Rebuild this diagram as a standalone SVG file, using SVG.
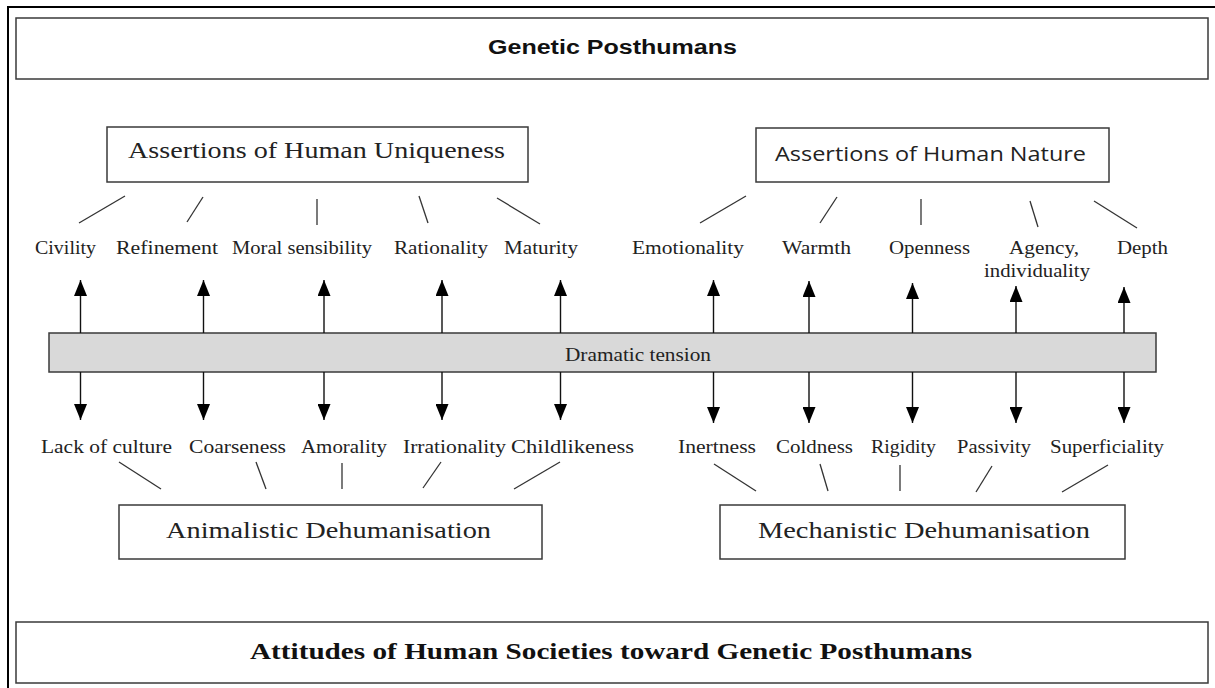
<svg xmlns="http://www.w3.org/2000/svg" width="1215" height="688" viewBox="0 0 1215 688">
<defs>
<style>
.box{fill:#fff;stroke:#3a3a3a;stroke-width:1.5}
.bar{fill:#d9d9d9;stroke:#3a3a3a;stroke-width:1.5}
.ln{stroke:#333;stroke-width:1.3;fill:none}
.ar{stroke:#111;stroke-width:1.4;fill:none;marker-end:url(#ah)}
.lb{font-family:"Liberation Serif","Times New Roman",serif;font-size:19px;fill:#222}
.dt{font-family:"Liberation Serif","Times New Roman",serif;font-size:18px;fill:#222}
.hd{font-family:"Liberation Serif","Times New Roman",serif;font-size:23px;fill:#222}
.sh{font-family:"Open Sans","Liberation Sans",sans-serif;font-size:20px;fill:#222}
.tt{font-family:"Liberation Sans","DejaVu Sans",sans-serif;font-size:20px;font-weight:bold;fill:#111}
.bt{font-family:"Liberation Serif","Times New Roman",serif;font-size:23px;font-weight:bold;fill:#111}
</style>
<marker id="ah" markerUnits="userSpaceOnUse" markerWidth="16" markerHeight="13" refX="16" refY="6.5" orient="auto">
<path d="M0,0 L16,6.5 L0,13 z" fill="#000"/>
</marker>
</defs>
<rect width="1215" height="688" fill="#fff"/>
<path d="M8,700 V7 H1220" fill="none" stroke="#000" stroke-width="2"/>

<g id="top">
<rect class="box" x="16" y="18" width="1192" height="61"/>
<text class="tt" x="488" y="54" textLength="249" lengthAdjust="spacingAndGlyphs">Genetic Posthumans</text>
</g>
<g id="bottom">
<rect class="box" x="16" y="622" width="1192" height="61"/>
<text class="bt" x="250" y="659" textLength="722" lengthAdjust="spacingAndGlyphs">Attitudes of Human Societies toward Genetic Posthumans</text>
</g>

<g id="uniqueness">
<rect class="box" x="107" y="127" width="421" height="55"/>
<text class="hd" x="128" y="158" textLength="377" lengthAdjust="spacingAndGlyphs">Assertions of Human Uniqueness</text>
</g>
<g id="nature">
<rect class="box" x="756" y="128" width="353" height="54"/>
<text class="sh" x="775" y="161" textLength="311" lengthAdjust="spacingAndGlyphs">Assertions of Human Nature</text>
</g>
<g id="animalistic">
<rect class="box" x="119" y="505" width="423" height="54"/>
<text class="hd" x="166" y="538" textLength="325" lengthAdjust="spacingAndGlyphs">Animalistic Dehumanisation</text>
</g>
<g id="mechanistic">
<rect class="box" x="720" y="505" width="405" height="54"/>
<text class="hd" x="758" y="538" textLength="332" lengthAdjust="spacingAndGlyphs">Mechanistic Dehumanisation</text>
</g>

<g id="tension">
<rect class="bar" x="49" y="333" width="1107" height="39"/>
<text class="dt" x="565" y="361" textLength="146" lengthAdjust="spacingAndGlyphs">Dramatic tension</text>
</g>

<g id="labels-top">
<text id="civility" class="lb" x="35" y="254" textLength="61" lengthAdjust="spacingAndGlyphs">Civility</text>
<text id="refinement" class="lb" x="116" y="254" textLength="102" lengthAdjust="spacingAndGlyphs">Refinement</text>
<text id="moral" class="lb" x="232" y="254" textLength="140" lengthAdjust="spacingAndGlyphs">Moral sensibility</text>
<text id="rationality" class="lb" x="394" y="254" textLength="94" lengthAdjust="spacingAndGlyphs">Rationality</text>
<text id="maturity" class="lb" x="504" y="254" textLength="74" lengthAdjust="spacingAndGlyphs">Maturity</text>
<text id="emotionality" class="lb" x="632" y="254" textLength="112" lengthAdjust="spacingAndGlyphs">Emotionality</text>
<text id="warmth" class="lb" x="782" y="254" textLength="69" lengthAdjust="spacingAndGlyphs">Warmth</text>
<text id="openness" class="lb" x="889" y="254" textLength="81" lengthAdjust="spacingAndGlyphs">Openness</text>
<text id="agency" class="lb" x="1009" y="254" textLength="70" lengthAdjust="spacingAndGlyphs">Agency,</text>
<text id="individuality" class="lb" x="984" y="277" textLength="106" lengthAdjust="spacingAndGlyphs">individuality</text>
<text id="depth" class="lb" x="1117" y="254" textLength="51" lengthAdjust="spacingAndGlyphs">Depth</text>
</g>

<g id="labels-bottom">
<text id="lack" class="lb" x="41" y="453" textLength="131" lengthAdjust="spacingAndGlyphs">Lack of culture</text>
<text id="coarseness" class="lb" x="189" y="453" textLength="97" lengthAdjust="spacingAndGlyphs">Coarseness</text>
<text id="amorality" class="lb" x="301" y="453" textLength="86" lengthAdjust="spacingAndGlyphs">Amorality</text>
<text id="irrationality" class="lb" x="403" y="453" textLength="103" lengthAdjust="spacingAndGlyphs">Irrationality</text>
<text id="childlikeness" class="lb" x="511" y="453" textLength="123" lengthAdjust="spacingAndGlyphs">Childlikeness</text>
<text id="inertness" class="lb" x="678" y="453" textLength="78" lengthAdjust="spacingAndGlyphs">Inertness</text>
<text id="coldness" class="lb" x="776" y="453" textLength="77" lengthAdjust="spacingAndGlyphs">Coldness</text>
<text id="rigidity" class="lb" x="871" y="453" textLength="65" lengthAdjust="spacingAndGlyphs">Rigidity</text>
<text id="passivity" class="lb" x="957" y="453" textLength="74" lengthAdjust="spacingAndGlyphs">Passivity</text>
<text id="superficiality" class="lb" x="1050" y="453" textLength="114" lengthAdjust="spacingAndGlyphs">Superficiality</text>
</g>

<g id="connectors">
<line class="ln" x1="125" y1="196" x2="79" y2="223"/>
<line class="ln" x1="203" y1="197" x2="187" y2="222"/>
<line class="ln" x1="317" y1="199" x2="317" y2="225"/>
<line class="ln" x1="419" y1="196" x2="428" y2="223"/>
<line class="ln" x1="497" y1="198" x2="540" y2="224"/>
<line class="ln" x1="746" y1="196" x2="700" y2="223"/>
<line class="ln" x1="837" y1="197" x2="820" y2="223"/>
<line class="ln" x1="921" y1="199" x2="921" y2="225"/>
<line class="ln" x1="1030" y1="201" x2="1038" y2="227"/>
<line class="ln" x1="1094" y1="201" x2="1137" y2="228"/>

<line class="ln" x1="119" y1="462" x2="161" y2="489"/>
<line class="ln" x1="256" y1="462" x2="266" y2="489"/>
<line class="ln" x1="342" y1="463" x2="342" y2="489"/>
<line class="ln" x1="441" y1="462" x2="423" y2="488"/>
<line class="ln" x1="560" y1="462" x2="514" y2="489"/>
<line class="ln" x1="714" y1="464" x2="756" y2="491"/>
<line class="ln" x1="820" y1="464" x2="828" y2="491"/>
<line class="ln" x1="900" y1="465" x2="900" y2="491"/>
<line class="ln" x1="992" y1="466" x2="976" y2="492"/>
<line class="ln" x1="1108" y1="465" x2="1062" y2="492"/>

<line class="ar" x1="80.5" y1="333" x2="80.5" y2="280"/>
<line class="ar" x1="203.5" y1="333" x2="203.5" y2="280"/>
<line class="ar" x1="324" y1="333" x2="324" y2="280"/>
<line class="ar" x1="442" y1="333" x2="442" y2="280"/>
<line class="ar" x1="560.5" y1="333" x2="560.5" y2="280"/>
<line class="ar" x1="713.5" y1="333" x2="713.5" y2="280"/>
<line class="ar" x1="809" y1="333" x2="809" y2="281"/>
<line class="ar" x1="912.5" y1="333" x2="912.5" y2="283"/>
<line class="ar" x1="1016" y1="333" x2="1016" y2="286"/>
<line class="ar" x1="1124" y1="333" x2="1124" y2="287"/>

<line class="ar" x1="80.5" y1="372" x2="80.5" y2="420"/>
<line class="ar" x1="203.5" y1="372" x2="203.5" y2="420"/>
<line class="ar" x1="324" y1="372" x2="324" y2="420"/>
<line class="ar" x1="442" y1="372" x2="442" y2="420"/>
<line class="ar" x1="560.5" y1="372" x2="560.5" y2="420"/>
<line class="ar" x1="713.5" y1="372" x2="713.5" y2="423"/>
<line class="ar" x1="809" y1="372" x2="809" y2="423"/>
<line class="ar" x1="912.5" y1="372" x2="912.5" y2="423"/>
<line class="ar" x1="1016" y1="372" x2="1016" y2="423"/>
<line class="ar" x1="1124" y1="372" x2="1124" y2="423"/>
</g>
</svg>
